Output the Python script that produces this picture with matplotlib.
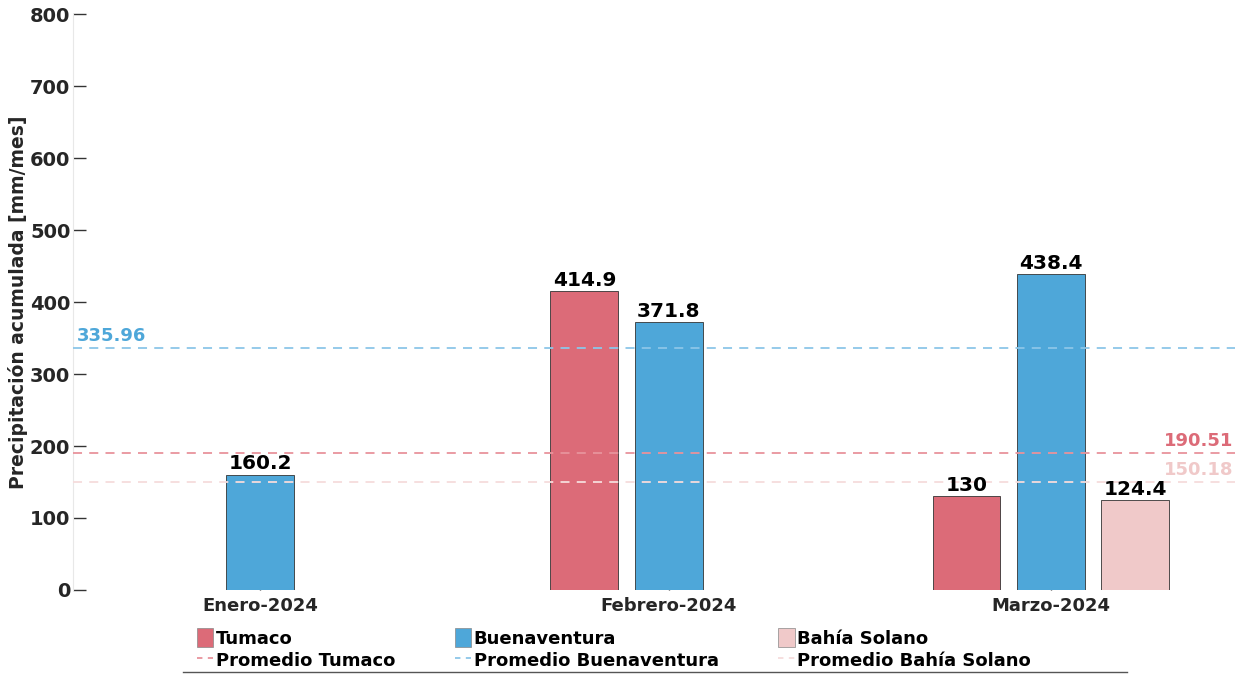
import numpy as np
import pandas as pd
import matplotlib
matplotlib.use('Agg')
import matplotlib.pyplot as plt
import matplotlib.dates as mdates
from matplotlib.patches import Patch
from matplotlib.lines import Line2D

# monthly accumulated precipitation [mm/mes]
months = ['Enero-2024', 'Febrero-2024', 'Marzo-2024']
month_dates = ['2024-01-01', '2024-02-01', '2024-03-01']
tumaco = [np.nan, 414.9, 130.0]
buenaventura = [160.2, 371.8, 438.4]
bahia_solano = [np.nan, np.nan, 124.4]

stations = ['Tumaco', 'Buenaventura', 'Bahía Solano']
station_means = [190.51, 335.96, 150.18]
colors = ['#DC6B78', '#4EA7D9', '#F0C9C9']
line_colors = ['#E8939C', '#8CC6E8', '#F6DCDC']

x = mdates.date2num(pd.to_datetime(month_dates))
width = 5.15   # days
offset = 6.4   # days

fig = plt.figure(figsize=(12.39, 6.75), dpi=100)
ax = fig.add_axes([0.059, 0.126, 0.938, 0.853])

series = [tumaco, buenaventura, bahia_solano]
for i, vals in enumerate(series):
    vals = np.array(vals)
    ok = ~np.isnan(vals)
    xpos = x[ok] + (i - 1)*offset
    ax.bar(xpos, vals[ok], width, color=colors[i], edgecolor='#333333',
           linewidth=0.6, zorder=2)
    for xp, v in zip(xpos, vals[ok]):
        ax.text(xp, v + 2, f'{v:g}', ha='center', va='bottom',
                fontsize=14.5, fontweight='bold', color='black', zorder=4)

# station averages
for i, m in enumerate(station_means):
    ax.axhline(m, color=line_colors[i], ls=(0, (5, 4)), lw=1.3, zorder=3)

trans = ax.get_yaxis_transform()
ax.text(0.003, station_means[1] + 4, f'{station_means[1]:.2f}', transform=trans,
        ha='left', va='bottom', fontsize=13, fontweight='bold', color=colors[1])
ax.text(0.998, station_means[0] + 4, f'{station_means[0]:.2f}', transform=trans,
        ha='right', va='bottom', fontsize=13, fontweight='bold', color=colors[0])
ax.text(0.998, station_means[2] + 4, f'{station_means[2]:.2f}', transform=trans,
        ha='right', va='bottom', fontsize=13, fontweight='bold', color=colors[2])

ax.set_xlim(x[0] - 14.2, x[2] + 14.0)
ax.set_ylim(0, 800)
ax.set_yticks(range(0, 801, 100))
ax.set_xticks(x)
ax.set_xticklabels(months)
for lbl in ax.get_xticklabels() + ax.get_yticklabels():
    lbl.set_fontweight('bold')
    lbl.set_color('#262626')
ax.tick_params(axis='y', direction='in', length=9, width=1, color='#333333',
               labelsize=14, pad=2)
ax.tick_params(axis='x', direction='in', length=9, width=1, color='#333333',
               labelsize=13, pad=5)
ax.set_ylabel('Precipitación acumulada [mm/mes]', fontsize=13.5,
              fontweight='bold', color='#262626')
ax.yaxis.set_label_coords(-0.039, 0.5)

for s in ['top', 'right', 'bottom']:
    ax.spines[s].set_visible(False)
ax.spines['left'].set_color('#E8E8E8')

handles = []
for i, st in enumerate(stations):
    handles.append(Patch(facecolor=colors[i], edgecolor='#888888', linewidth=0.5, label=st))
    handles.append(Line2D([], [], color=line_colors[i], ls=(0, (3, 3)), lw=1.3,
                          label='Promedio ' + st))

leg = fig.legend(handles=handles, ncol=3, loc='upper center',
                 bbox_to_anchor=(0.4955, 1 - 612/675), frameon=False,
                 prop={'weight': 'bold', 'size': 13}, handlelength=0.9,
                 handleheight=1.2, handletextpad=0.15, columnspacing=3.3,
                 labelspacing=0.15)

fig.add_artist(Line2D([0.148, 0.91], [0.004, 0.004], transform=fig.transFigure,
                      color='#555555', lw=1))

fig.savefig('out.png', dpi=100)
